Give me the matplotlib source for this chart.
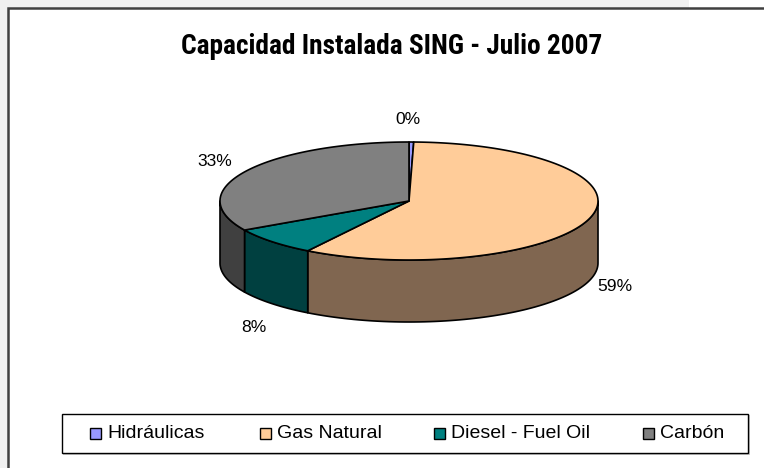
import numpy as np
import matplotlib.pyplot as plt
from matplotlib.patches import Polygon, Rectangle

plt.rcParams['font.family'] = ['Liberation Sans', 'DejaVu Sans']

categorias = ['Hidráulicas', 'Gas Natural', 'Diesel - Fuel Oil', 'Carbón']
porcentajes = [0.4, 58.6, 7.8, 33.2]
colores = ['#9999FF', '#FFCC99', '#008080', '#808080']
colores_lado = ['#4C4C80', '#806650', '#004040', '#404040']
titulo = 'Capacidad Instalada SING - Julio 2007'

W, H = 764, 468
fig = plt.figure(figsize=(W / 100, H / 100), dpi=100)
fig.patch.set_facecolor('#f0f0f0')
ax = fig.add_axes([0, 0, 1, 1])
ax.set_xlim(0, W)
ax.set_ylim(H, 0)
ax.axis('off')

# area del grafico
ax.add_patch(Rectangle((689, -5), 100, 13, facecolor='white', edgecolor='none'))
ax.add_patch(Rectangle((7.5, 8), 800, 500, facecolor='white', edgecolor='#404040', lw=1.8))

ax.text(391.5, 47, titulo, ha='center', va='center', fontsize=19.7, fontweight='bold',
        family=['Roboto Condensed', 'Liberation Sans'])

# pastel 3D
cx, cy, a, b, prof = 409, 201, 189, 59, 62


def punto(t):
    # t en grados desde las 12 en sentido horario
    r = np.radians(t)
    return cx + a * np.sin(r), cy - b * np.cos(r)


fracs = np.array(porcentajes) / sum(porcentajes)
limites = np.concatenate([[0], np.cumsum(fracs) * 360])

# paredes laterales (solo la parte frontal, 90..270 grados)
for i in range(len(fracs)):
    t0, t1 = max(limites[i], 90), min(limites[i + 1], 270)
    if t1 <= t0:
        continue
    ts = np.linspace(t0, t1, 80)
    xs, ys = punto(ts)
    pts = list(zip(xs, ys)) + list(zip(xs[::-1], ys[::-1] + prof))
    ax.add_patch(Polygon(pts, closed=True, facecolor=colores_lado[i], edgecolor='black', lw=1.2, joinstyle='round'))

# caras superiores
for i in range(len(fracs)):
    ts = np.linspace(limites[i], limites[i + 1], 200)
    xs, ys = punto(ts)
    pts = [(cx, cy)] + list(zip(xs, ys))
    ax.add_patch(Polygon(pts, closed=True, facecolor=colores[i], edgecolor='black', lw=1.2, joinstyle='round'))

# etiquetas de porcentaje
pos_etiquetas = [(408, 120), (614.5, 286.5), (254, 327), (215, 161.5)]
for p, (x, y) in zip(porcentajes, pos_etiquetas):
    ax.text(x, y, f'{round(p):.0f}%', ha='center', va='center', fontsize=12.6)

# leyenda
ax.add_patch(Rectangle((63, 415), 687, 40, facecolor='#c8c8c8', edgecolor='none'))
ax.add_patch(Rectangle((61.5, 413.5), 686, 39, facecolor='white', edgecolor='black', lw=1))
pos_leyenda = [90, 260, 434, 643]
for nombre, col, x in zip(categorias, colores, pos_leyenda):
    ax.add_patch(Rectangle((x, 428), 11, 11, facecolor=col, edgecolor='black', lw=1))
    ax.text(x + 17, 433.5, nombre, ha='left', va='center', fontsize=14)

fig.savefig('out.png', dpi=100, facecolor=fig.get_facecolor())
